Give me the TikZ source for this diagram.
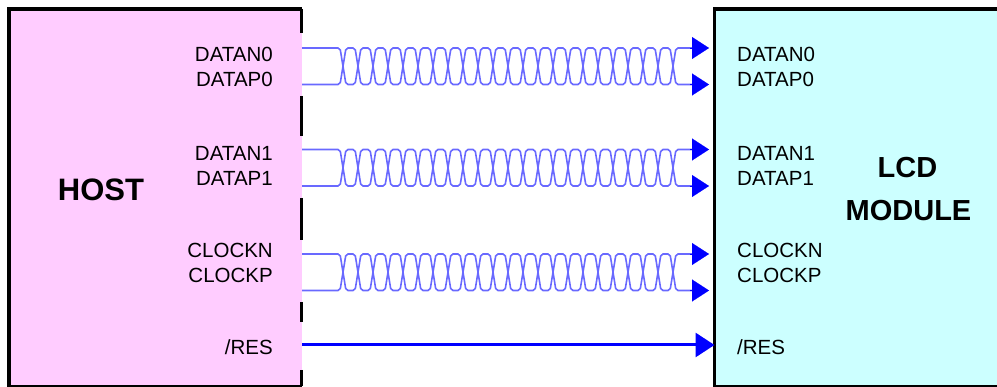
\documentclass[tikz,border=0pt]{standalone}
\usepackage{fontspec}
\setmainfont{Liberation Sans}
\usetikzlibrary{arrows.meta}
\definecolor{hostpink}{RGB}{255,204,255}
\definecolor{lcdcyan}{RGB}{204,255,255}
\definecolor{wirecol}{RGB}{105,105,255}
\begin{document}
\begin{tikzpicture}[x=1pt,y=-1pt,
  boxborder/.style={line width=3.6pt,black},
  lbl/.style={inner sep=0pt,font=\fontsize{20.5}{24}\selectfont},
  big/.style={inner sep=0pt,font=\fontsize{29}{34}\bfseries\selectfont},
  wire/.style={wirecol,line width=1.6pt,rounded corners=2pt},
  headarrow/.style={blue,line width=0.1pt,-{Triangle[length=17pt,width=22pt]}},
  resline/.style={blue,line width=3pt,-{Triangle[length=19pt,width=24pt]}}]
\useasboundingbox (0,0) rectangle (997,387);
% boxes
\node[fill=hostpink,inner sep=0pt,minimum width=292.5pt,minimum height=377pt,anchor=north west] (host) at (9,9) {};
\node[fill=lcdcyan,inner sep=0pt,minimum width=290pt,minimum height=377pt,anchor=north west] (lcd) at (714.5,9) {};
\draw[boxborder] (host.north east) -- (host.north west) -- (host.south west) -- (host.south east);
\draw[boxborder] (lcd.north east) -- (lcd.north west) -- (lcd.south west) -- (lcd.south east);
\foreach \ya/\yb in {9/33,96/136,198/240,302/322,370/386}
  \draw[boxborder,line cap=butt] (301.5,\ya) -- (301.5,\yb);
% big titles
\node[big,anchor=base,font=\fontsize{31}{36}\bfseries\selectfont] (hosttitle) at (101,201) {HOST};
\node[big,anchor=base] (lcdtitle) at (907.5,178) {LCD};
\node[big,anchor=base] (modtitle) at (908.5,221) {MODULE};
% labels
\foreach \name/\txt/\yy in {n0/DATAN0/62,p0/DATAP0/87,n1/DATAN1/161,p1/DATAP1/185.5,nc/CLOCKN/258,pc/CLOCKP/283}{
  \node[lbl,anchor=base east] (h\name) at (273,\yy) {\txt};
  \node[lbl,anchor=base west] (l\name) at (737,\yy) {\txt};
}
\node[lbl,anchor=base east] (hres) at (273,355) {/RES};
\node[lbl,anchor=base west] (lres) at (737,355) {/RES};
% twisted pairs
\foreach \t/\b/\id in {48/84.5/a,149.5/186/b,254/290.5/c}{
  \coordinate (s\id t) at (302,\t);
  \coordinate (s\id b) at (302,\b);
  \coordinate (e\id t) at (709,\t);
  \coordinate (e\id b) at (709,\b);
  \draw[wire] (s\id t) foreach \k in {0,2,...,20} { -- ({340+15*\k},\t) -- ({346+15*\k},\b) -- ({355+15*\k},\b) -- ({361+15*\k},\t) } -- (670,\t) -- (676,\b) -- (692,\b);
  \draw[wire] (s\id b) foreach \k in {0,2,...,20} { -- ({340+15*\k},\b) -- ({346+15*\k},\t) -- ({355+15*\k},\t) -- ({361+15*\k},\b) } -- (670,\b) -- (676,\t) -- (692,\t);
  \draw[headarrow] (690,\t) -- (e\id t);
  \draw[headarrow] (690,\b) -- (e\id b);
}
% reset line
\coordinate (resstart) at (302,345);
\draw[resline] (resstart) -- (lcd.west |- resstart);
\end{tikzpicture}
\end{document}
